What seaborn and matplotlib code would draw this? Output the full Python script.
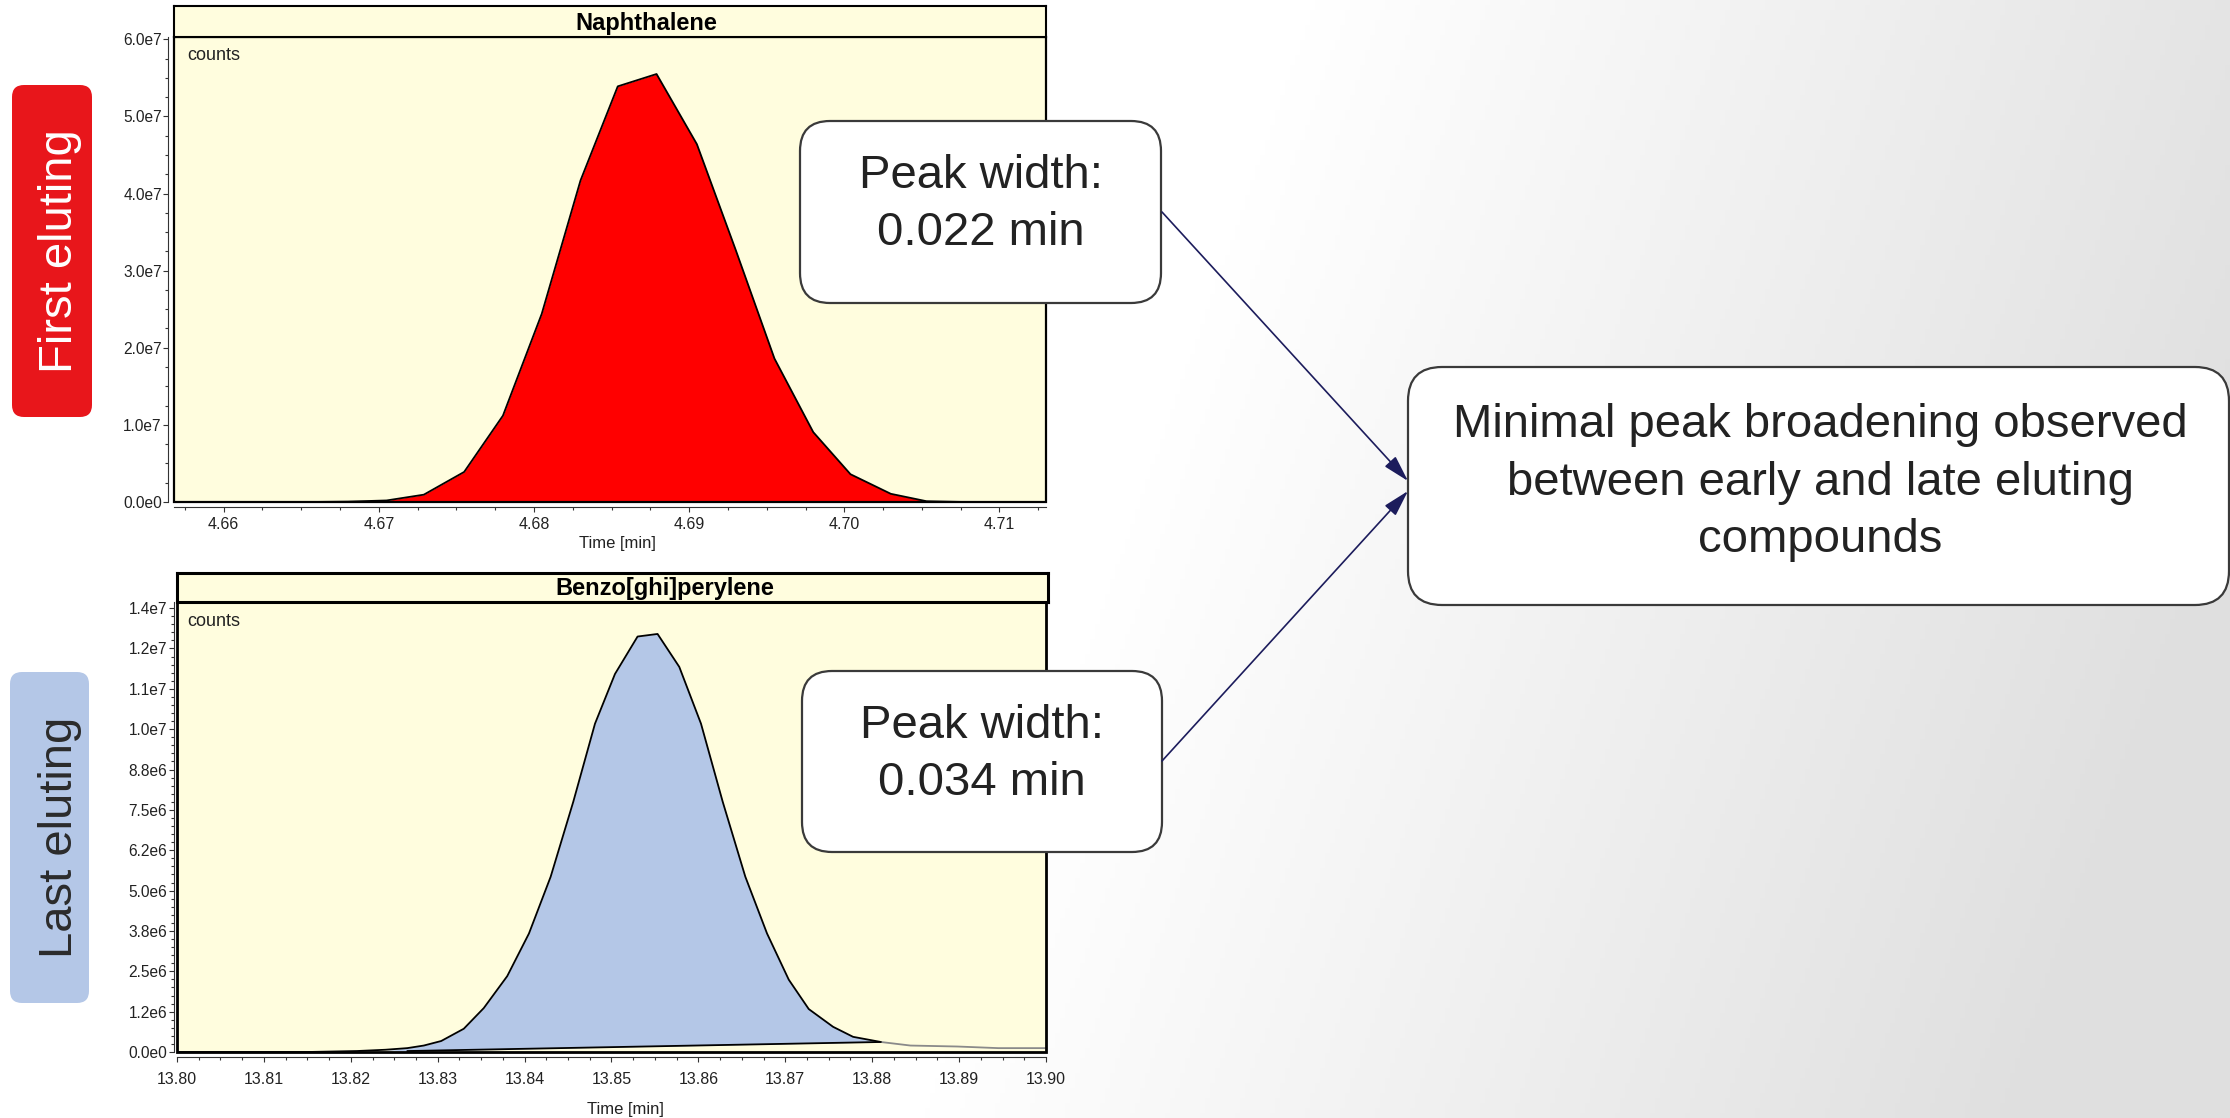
import numpy as np
import pandas as pd
import matplotlib
matplotlib.use("Agg")
import matplotlib.pyplot as plt
import seaborn as sns
from matplotlib.patches import FancyBboxPatch, Rectangle
from matplotlib.ticker import MultipleLocator, FixedLocator, FuncFormatter

# ---------------- data ----------------
naph_time = [4.6580, 4.6605, 4.6630, 4.6655, 4.6680, 4.6705, 4.6729, 4.6755,
             4.6780, 4.6805, 4.6830, 4.6854, 4.6879, 4.6905, 4.6930, 4.6955,
             4.6980, 4.7004, 4.7030, 4.7053, 4.7078, 4.7103, 4.7128]
naph_counts = [0, 0, 0, 0, 0.05e6, 0.2e6, 0.95e6, 3.9e6,
               1.12e7, 2.44e7, 4.17e7, 5.39e7, 5.55e7, 4.64e7, 3.27e7, 1.86e7,
               0.906e7, 3.6e6, 1.06e6, 0.1e6, 0, 0, 0]

bghi_time = [13.8000, 13.8050, 13.8100, 13.8150, 13.8207, 13.8240, 13.8265, 13.8284,
             13.8304, 13.8330, 13.8353, 13.8380, 13.8405, 13.8430, 13.8456, 13.8481,
             13.8504, 13.8530, 13.8553, 13.8578, 13.8603, 13.8628, 13.8654, 13.8679,
             13.8704, 13.8727, 13.8755, 13.8778, 13.8810, 13.8844, 13.8898, 13.8945,
             13.9000]
bghi_counts = [0, 0, 0, 0, 0.03e6, 0.07e6, 0.12e6, 0.2e6,
               0.34e6, 0.72e6, 1.36e6, 2.35e6, 3.67e6, 5.43e6, 7.75e6, 10.17e6,
               11.71e6, 12.87e6, 12.95e6, 11.93e6, 10.17e6, 7.75e6, 5.43e6, 3.67e6,
               2.24e6, 1.33e6, 0.78e6, 0.47e6, 0.31e6, 0.2e6, 0.17e6, 0.12e6,
               0.12e6]
bghi_base_time = [13.8265, 13.8810]
bghi_base_counts = [0.03e6, 0.31e6]

top_title = "Naphthalene"
bottom_title = "Benzo[ghi]perylene"
top_xticks = [4.66, 4.67, 4.68, 4.69, 4.70, 4.71]
top_yticks = [0, 1e7, 2e7, 3e7, 4e7, 5e7, 6e7]
bottom_xticks = [13.80, 13.81, 13.82, 13.83, 13.84, 13.85, 13.86, 13.87, 13.88, 13.89, 13.90]
bottom_yticks = [0, 1.25e6, 2.5e6, 3.75e6, 5.0e6, 6.25e6, 7.5e6, 8.75e6,
                 1.0e7, 1.125e7, 1.25e7, 1.375e7]
first_label = "First eluting"
last_label = "Last eluting"
width_first = ["Peak width:", "0.022 min"]
width_last = ["Peak width:", "0.034 min"]
summary_lines = ["Minimal peak broadening observed",
                 "between early and late eluting",
                 "compounds"]

# ---------------- style ----------------
sns.set_theme(style="ticks")
plt.rcParams["font.family"] = ["Liberation Sans", "DejaVu Sans"]

W, H = 2230, 1118
YELLOW = "#FFFDDE"
TXT = "#222222"

fig = plt.figure(figsize=(W / 100, H / 100), dpi=100)
fig.patch.set_facecolor("white")

# background gradient
bg = fig.add_axes([0, 0, 1, 1], zorder=0)
xs = np.linspace(0, W, 446)
ys = np.linspace(0, H, 224)
XX, YY = np.meshgrid(xs, ys)
tt = np.clip((XX - 1120 + 0.35 * (YY - 559)) / 1110, 0, 1)
val = (255 - 32 * tt) / 255
img = np.dstack([val, val, val])
bg.imshow(img, extent=[0, 1, 0, 1], aspect="auto", origin="upper")
bg.axis("off")


def sci(v, pos=None):
    m, e = f"{v:.1e}".split("e")
    return f"{m}e{int(e)}"


def px_rect(x0, y0, x1, y1):
    return [x0 / W, 1 - y1 / H, (x1 - x0) / W, (y1 - y0) / H]


def style_axes(ax, xticks, yticks, ymin_step, xpad, spine_out_x, spine_out_y, frame_lw):
    ax.set_facecolor(YELLOW)
    ax.spines["top"].set_visible(False)
    ax.spines["right"].set_visible(False)
    ax.spines["left"].set_position(("outward", spine_out_y))
    ax.spines["bottom"].set_position(("outward", spine_out_x))
    for s in ("left", "bottom"):
        ax.spines[s].set_color("#333333")
        ax.spines[s].set_linewidth(0.8)
    ax.xaxis.set_major_locator(FixedLocator(xticks))
    ax.xaxis.set_major_formatter(FuncFormatter(lambda v, p: f"{v:.2f}"))
    ax.xaxis.set_minor_locator(MultipleLocator(0.0025))
    ax.yaxis.set_major_locator(FixedLocator(yticks))
    ax.yaxis.set_major_formatter(FuncFormatter(sci))
    ax.yaxis.set_minor_locator(MultipleLocator(ymin_step))
    ax.tick_params(which="major", length=3.6, width=0.8, color="#333333",
                   labelsize=11.5, labelcolor=TXT, direction="out")
    ax.tick_params(which="minor", length=2.0, width=0.8, color="#333333", direction="out")
    ax.tick_params(axis="y", which="major", pad=1, labelsize=11.2)
    ax.tick_params(axis="x", which="major", pad=xpad)
    ax.add_patch(Rectangle((0, 0), 1, 1, transform=ax.transAxes, fill=False,
                           ec="black", lw=frame_lw, zorder=10, clip_on=False))
    ax.set_ylabel("")


def header(rect, lw):
    h = fig.add_axes(rect, zorder=2)
    h.set_facecolor(YELLOW)
    h.set_xticks([])
    h.set_yticks([])
    for s in h.spines.values():
        s.set_color("black")
        s.set_linewidth(lw)
    return h


# ---------------- top chromatogram ----------------
ax1 = fig.add_axes(px_rect(174, 37, 1046, 502), zorder=2)
ax1.fill_between(naph_time, naph_counts, 0, color="#FF0000", lw=0, zorder=1)
sns.lineplot(x=naph_time, y=naph_counts, ax=ax1, color="black", lw=1.3,
             estimator=None, sort=False, zorder=2)
ax1.set_xlim(4.6568, 4.7130)
ax1.set_ylim(0, 6.03e7)
style_axes(ax1, top_xticks, top_yticks, 2.5e6, 3.5, 3.6, 4.2, 1.6)
ax1.set_xlabel("Time [min]", fontsize=12, color=TXT)
ax1.xaxis.set_label_coords(0.508, -0.073)
ax1.text(0.015, 0.978, "counts", transform=ax1.transAxes, fontsize=13,
         va="top", ha="left", color=TXT)
header(px_rect(174, 6, 1046, 37), 1.5)

# ---------------- bottom chromatogram ----------------
t = np.array(bghi_time)
c = np.array(bghi_counts)
base = np.interp(t, bghi_base_time, bghi_base_counts)
in_peak = (t >= bghi_base_time[0]) & (t <= bghi_base_time[1])

ax2 = fig.add_axes(px_rect(177, 602, 1046, 1052), zorder=2)
ax2.fill_between(t, c, base, where=in_peak, color="#B4C7E7", lw=0,
                 interpolate=True, zorder=1)
sns.lineplot(x=t[t <= bghi_base_time[1]], y=c[t <= bghi_base_time[1]], ax=ax2,
             color="black", lw=1.3, estimator=None, sort=False, zorder=3)
sns.lineplot(x=t[t >= bghi_base_time[1]], y=c[t >= bghi_base_time[1]], ax=ax2,
             color="#8a8a8a", lw=1.3, estimator=None, sort=False, zorder=3)
sns.lineplot(x=bghi_base_time, y=bghi_base_counts, ax=ax2, color="black",
             lw=1.3, estimator=None, sort=False, zorder=3)
ax2.set_xlim(13.80, 13.90)
ax2.set_ylim(0, 1.394e7)
style_axes(ax2, bottom_xticks, bottom_yticks, 0.25e6, 7, 3.6, 2.4, 2.0)
ax2.set_xlabel("Time [min]", fontsize=12, color=TXT)
ax2.xaxis.set_label_coords(0.516, -0.111)
ax2.text(0.0115, 0.976, "counts", transform=ax2.transAxes, fontsize=13,
         va="top", ha="left", color=TXT)
header(px_rect(177, 573, 1048, 602), 2.2)

# ---------------- overlay (pixel coordinates) ----------------
ov = fig.add_axes([0, 0, 1, 1], zorder=10)
ov.set_xlim(0, W)
ov.set_ylim(H, 0)
ov.axis("off")

ov.text(646, 30, top_title, ha="center", va="baseline", fontsize=17,
        fontweight="bold", color="black")
ov.text(665, 594.5, bottom_title, ha="center", va="baseline", fontsize=17,
        fontweight="bold", color="black")

# side labels
ov.add_patch(FancyBboxPatch((12, 85), 80, 332, boxstyle="round,pad=0,rounding_size=12",
                            fc="#E8161B", ec="none"))
ov.text(60, 251, first_label, rotation=90, ha="center", va="center",
        color="white", fontsize=34)
ov.add_patch(FancyBboxPatch((10, 672), 79, 331, boxstyle="round,pad=0,rounding_size=12",
                            fc="#B4C7E7", ec="none"))
ov.text(59.5, 837, last_label, rotation=90, ha="center", va="center",
        color="#2b2b2b", fontsize=34)


# callout boxes
def callout(x0, y0, w, h, lines, baselines, cx, r=30):
    ov.add_patch(FancyBboxPatch((x0, y0), w, h,
                                boxstyle=f"round,pad=0,rounding_size={r}",
                                fc="white", ec="#3a3a3a", lw=1.6, zorder=3))
    for s, yb in zip(lines, baselines):
        ov.text(cx, yb, s, ha="center", va="baseline", fontsize=34,
                color=TXT, zorder=4)


callout(800, 121, 361, 182, width_first, [188, 245], 981)
callout(802, 671, 360, 181, width_last, [738, 795], 982)
callout(1408, 367, 821, 238, summary_lines, [437, 495, 552], 1820, r=34)

arrow_kw = dict(arrowstyle="-|>,head_length=0.9,head_width=0.25",
                color="#1c1c5c", lw=1.2, mutation_scale=18,
                shrinkA=0, shrinkB=0)
ov.annotate("", xy=(1408, 481), xytext=(1162, 212), arrowprops=arrow_kw, zorder=5)
ov.annotate("", xy=(1408, 491), xytext=(1162, 761), arrowprops=arrow_kw, zorder=5)

fig.savefig("out.png", dpi=100, facecolor="white")
